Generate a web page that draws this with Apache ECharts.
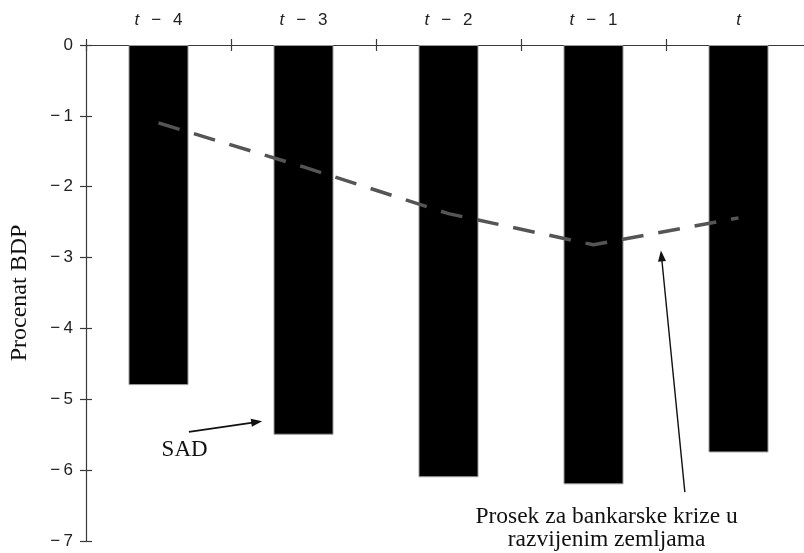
<!DOCTYPE html>
<html>
<head>
<meta charset="utf-8">
<script src="https://cdn.jsdelivr.net/npm/echarts@6/dist/echarts.min.js"></script>
<style>html,body{margin:0;padding:0;background:#fff}#c{width:804px;height:553px}</style>
</head>
<body>
<div id="c"></div>
<script>
var categories = ['t − 4', 't − 3', 't − 2', 't − 1', 't'];
var usValues = [-4.8, -5.5, -6.1, -6.2, -5.75];
var avgValues = [-1.1, -1.72, -2.38, -2.82, -2.44];
var yTicks = [0, -1, -2, -3, -4, -5, -6, -7];
var yAxisName = 'Procenat BDP';
var noteUS = 'SAD';
var noteAvg = 'Prosek za bankarske krize u\nrazvijenim zemljama';

var chart = echarts.init(document.getElementById('c'));
var axisColor = '#3a3a3a';
var sp = '\u2002\u2009';
var labelFmt = function (v) {
  var parts = v.split(' ');
  if (parts.length === 1) return '{i|' + v + '}';
  return '{i|' + parts[0] + '}' + sp + parts.slice(1).join(sp);
};
var yFmt = function (v) { return v === 0 ? '0' : '−\u2009' + Math.abs(v); };
var yCommon = {
  type: 'value', min: yTicks[yTicks.length - 1], max: yTicks[0], interval: 1,
  splitLine: { show: false }
};
var option = {
  animation: false,
  backgroundColor: '#fff',
  grid: { left: 86, top: 45, width: 725, bottom: 12, outerBoundsMode: 'none', containLabel: false },
  xAxis: [{
    type: 'category', data: categories, position: 'top',
    axisLine: { lineStyle: { color: axisColor, width: 1.2 } },
    axisTick: { show: true, length: 6, lineStyle: { color: axisColor, width: 1.2 } },
    axisLabel: {
      margin: 16, fontFamily: 'Liberation Sans', fontSize: 17, color: '#222',
      formatter: labelFmt,
      rich: { i: { fontStyle: 'italic', fontFamily: 'Liberation Sans', fontSize: 17, color: '#222' } }
    }
  }, {
    type: 'category', data: categories, position: 'top',
    axisLine: { show: false },
    axisTick: { show: true, inside: true, length: 6, lineStyle: { color: axisColor, width: 1.2 } },
    axisLabel: { show: false }
  }],
  yAxis: [Object.assign({}, yCommon, {
    name: yAxisName, nameLocation: 'middle', nameGap: 54, nameRotate: 90,
    nameTextStyle: { fontFamily: 'Liberation Serif', fontSize: 24, color: '#111' },
    axisLine: { show: true, lineStyle: { color: axisColor, width: 1.2 } },
    axisTick: { show: true, length: 6, lineStyle: { color: axisColor, width: 1.2 } },
    axisLabel: { margin: 13, fontFamily: 'Liberation Sans', fontSize: 17, color: '#222', formatter: yFmt }
  }), Object.assign({}, yCommon, {
    position: 'left',
    axisLine: { show: false },
    axisTick: { show: true, inside: true, length: 6, lineStyle: { color: axisColor, width: 1.2 } },
    axisLabel: { show: false }
  })],
  series: [{
    type: 'bar', data: usValues, barWidth: 60,
    itemStyle: { color: '#000', borderColor: '#9a9a9a', borderWidth: 1 }
  }, {
    type: 'line', data: avgValues, symbol: 'none', z: 5,
    lineStyle: { color: '#555', width: 3.5, type: [22, 15], cap: 'butt' }
  }]
};
chart.setOption(option);

// fractional category positions -> pixels (interpolated between category centres)
function px(cat, val) {
  var a = chart.convertToPixel({ xAxisIndex: 0, yAxisIndex: 0 }, [0, val]);
  var b = chart.convertToPixel({ xAxisIndex: 0, yAxisIndex: 0 }, [1, val]);
  return [a[0] + cat * (b[0] - a[0]), a[1]];
}
var sadText = px(0.18, -5.72);
var sadFrom = px(0.21, -5.46);
var sadTo = px(0.715, -5.31);
var avgTextPos = px(3.09, -6.82);
var avgFrom = px(3.63, -6.31);
var avgTo = px(3.465, -2.9);

function arrowHead(a, b, len, half) {
  var dx = b[0] - a[0], dy = b[1] - a[1];
  var l = Math.sqrt(dx * dx + dy * dy);
  var ux = dx / l, uy = dy / l;
  var bx = b[0] - ux * len, by = b[1] - uy * len;
  return [[b[0], b[1]], [bx - uy * half, by + ux * half], [bx + uy * half, by - ux * half]];
}
function shorten(a, b, d) {
  var dx = b[0] - a[0], dy = b[1] - a[1];
  var l = Math.sqrt(dx * dx + dy * dy);
  return [b[0] - dx / l * d, b[1] - dy / l * d];
}
var sadEnd = shorten(sadFrom, sadTo, 6);
var avgEnd = shorten(avgFrom, avgTo, 6);

chart.setOption({
  graphic: [
    { type: 'text', z: 100, x: sadText[0], y: sadText[1], style: { text: noteUS, fontFamily: 'Liberation Serif', fontSize: 23, fill: '#111', align: 'center', verticalAlign: 'middle' } },
    { type: 'line', z: 100, shape: { x1: sadFrom[0], y1: sadFrom[1], x2: sadEnd[0], y2: sadEnd[1] }, style: { stroke: '#111', lineWidth: 1.8 } },
    { type: 'polygon', z: 100, shape: { points: arrowHead(sadFrom, sadTo, 11, 4) }, style: { fill: '#111' } },
    { type: 'text', z: 100, x: avgTextPos[0], y: avgTextPos[1], style: { text: noteAvg, fontFamily: 'Liberation Serif', fontSize: 23.5, lineHeight: 23, fill: '#111', align: 'center', verticalAlign: 'middle' } },
    { type: 'line', z: 100, shape: { x1: avgFrom[0], y1: avgFrom[1], x2: avgEnd[0], y2: avgEnd[1] }, style: { stroke: '#111', lineWidth: 1.4 } },
    { type: 'polygon', z: 100, shape: { points: arrowHead(avgFrom, avgTo, 11, 4) }, style: { fill: '#111' } }
  ]
});
</script>
</body>
</html>
